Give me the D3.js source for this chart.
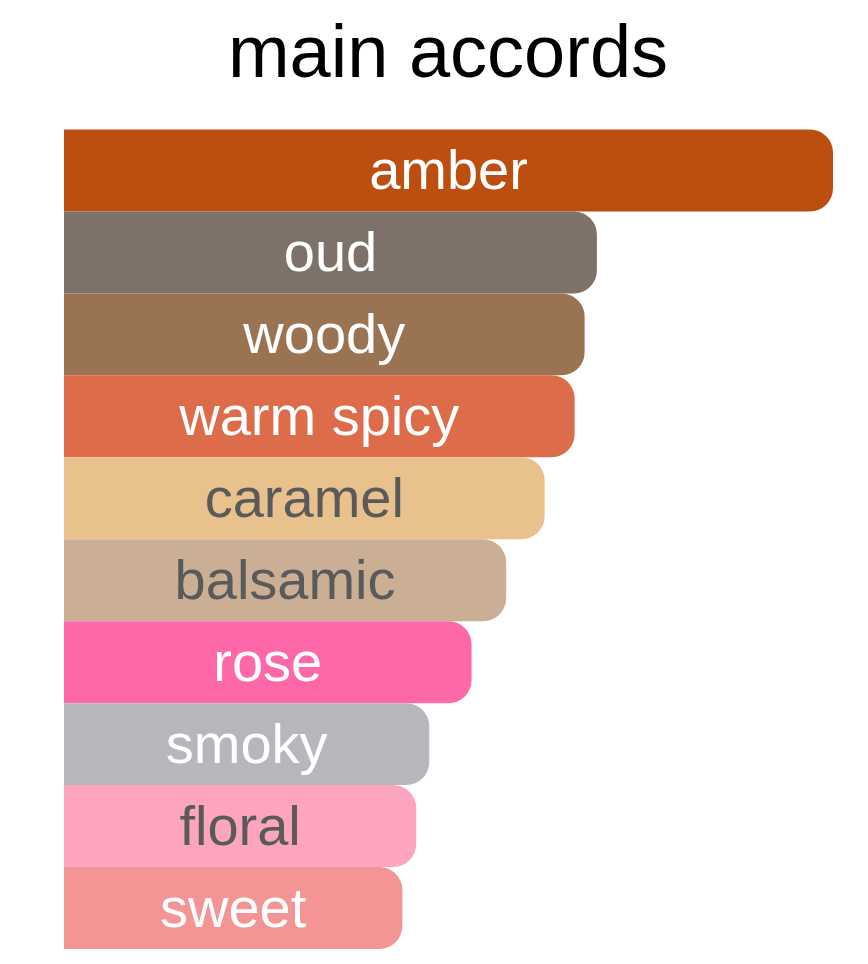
<!DOCTYPE html>
<html><head><meta charset="utf-8">
<script src="https://cdn.jsdelivr.net/npm/d3@7"></script>
<style>html,body{margin:0;padding:0;background:#fff;}</style>
</head><body>
<svg id="c" width="868" height="964"></svg>
<script>
const title = "main accords";
const categories = ["amber","oud","woody","warm spicy","caramel","balsamic","rose","smoky","floral","sweet"];
const values = [100, 69.3, 67.7, 66.4, 62.5, 57.5, 53.0, 47.5, 45.8, 44.0];
const colors = ["#BC4F10","#7E7169","#9A7352","#DD6C4A","#E8C18C","#CBAF94","#FF68A8","#B9B5BD","#FDA5BF","#F39595"];
const labelColors = ["#fff","#fff","#fff","#fff","#5a5a5a","#5a5a5a","#fff","#fff","#5a5a5a","#fff"];

const svg = d3.select("#c");
const x = d3.scaleLinear().domain([0, 100]).range([64, 833]);
const y = d3.scaleBand().domain(categories).range([129.5, 949]).padding(0);
const r = 23;

svg.append("text").attr("x", 448).attr("y", 77).attr("text-anchor", "middle")
  .attr("font-family", "Liberation Sans, Arial, sans-serif").attr("font-size", 74)
  .attr("fill", "#000").text(title);

function barPath(x0, x1, y0, y1) {
  const rr = Math.min(r, (y1 - y0) / 2, x1 - x0);
  return `M${x0},${y0}H${x1 - rr}A${rr},${rr} 0 0 1 ${x1},${y0 + rr}V${y1 - rr}A${rr},${rr} 0 0 1 ${x1 - rr},${y1}H${x0}Z`;
}

const data = categories.map((c, i) => ({c, v: values[i], col: colors[i], lc: labelColors[i]}));
const g = svg.append("g");
g.selectAll("path").data(data).join("path")
  .attr("d", d => barPath(x(0), x(d.v), y(d.c), y(d.c) + y.bandwidth()))
  .attr("fill", d => d.col);
g.selectAll("text").data(data).join("text")
  .attr("x", d => (x(0) + x(d.v)) / 2)
  .attr("y", d => y(d.c) + y.bandwidth() / 2)
  .attr("dy", "0.33em")
  .attr("text-anchor", "middle")
  .attr("font-family", "Liberation Sans, Arial, sans-serif")
  .attr("font-size", 56)
  .attr("fill", d => d.lc)
  .text(d => d.c);
</script>
</body></html>
